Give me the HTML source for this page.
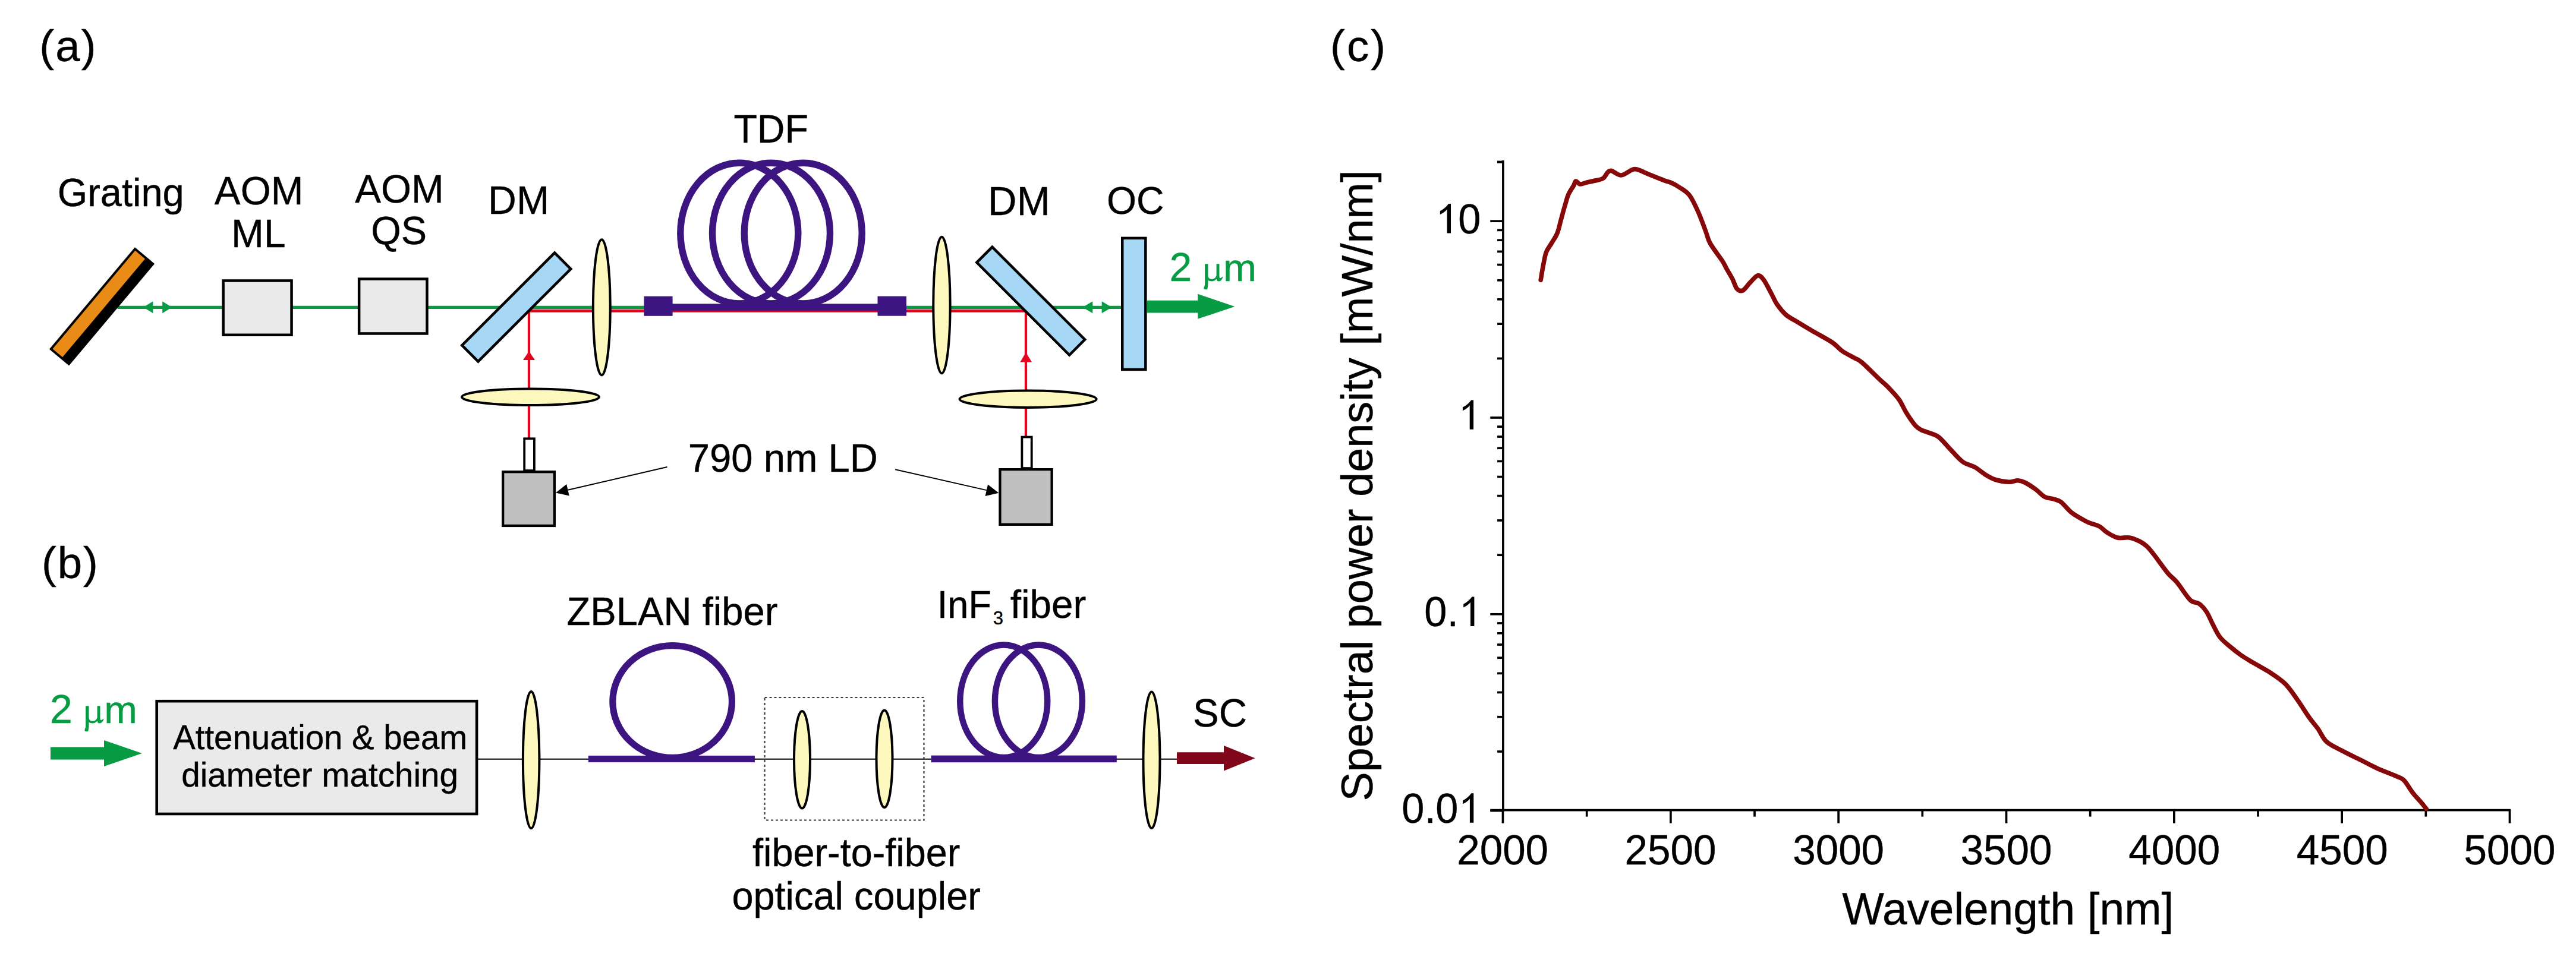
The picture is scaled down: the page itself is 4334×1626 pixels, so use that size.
<!DOCTYPE html>
<html><head><meta charset="utf-8"><style>
html,body{margin:0;padding:0;background:#fff;width:4334px;height:1626px;overflow:hidden}
svg{display:block}
text{font-family:"Liberation Sans", sans-serif}
</style></head><body>
<svg width="4334" height="1626" viewBox="0 0 4334 1626">
<rect width="4334" height="1626" fill="#fff"/>
<text transform="translate(66.33,103.20) scale(1,1.0)" font-size="74.50" fill="#000" stroke="#000" stroke-width="0.4" letter-spacing="2.15">(a)</text>
<text transform="translate(96.75,347.00) scale(1,1.02)" font-size="64.93" fill="#000" stroke="#000" stroke-width="0.4">Grating</text>
<text transform="translate(360.87,344.10) scale(1,1.02)" font-size="65.62" fill="#000" stroke="#000" stroke-width="0.4">AOM</text>
<text transform="translate(389.03,415.80) scale(1,1.02)" font-size="65.86" fill="#000" stroke="#000" stroke-width="0.4">ML</text>
<text transform="translate(597.27,340.60) scale(1,1.02)" font-size="65.62" fill="#000" stroke="#000" stroke-width="0.4">AOM</text>
<text transform="translate(624.28,411.00) scale(1,1.02)" font-size="64.94" fill="#000" stroke="#000" stroke-width="0.4">QS</text>
<text transform="translate(821.11,360.40) scale(1,1.02)" font-size="66.19" fill="#000" stroke="#000" stroke-width="0.4">DM</text>
<text transform="translate(1234.38,240.00) scale(1,1.02)" font-size="64.63" fill="#000" stroke="#000" stroke-width="0.4">TDF</text>
<text transform="translate(1662.12,361.50) scale(1,1.02)" font-size="67.27" fill="#000" stroke="#000" stroke-width="0.4">DM</text>
<text transform="translate(1862.11,360.00) scale(1,1.02)" font-size="64.31" fill="#000" stroke="#000" stroke-width="0.4">OC</text>
<text transform="translate(1967.60,473.00) scale(1,1.0)" font-size="68.00" fill="#079c43" stroke="#079c43" stroke-width="0.4">2</text>
<path transform="translate(2027.1,473)" d="M0,-28.8 L5.4,-28.8 L5.4,-10 C5.4,-4.5 8.5,-3.2 11.8,-3.2 C15.5,-3.2 19.5,-6 19.5,-10.5 L19.5,-28.8 L24.4,-28.8 L24.4,-8.5 C24.4,-4.8 25.6,-4.2 27.4,-5.6 L30.6,-7.6 C29.2,-2.2 26.4,0.4 23.2,0.4 C21,0.4 20,-1 19.6,-3.6 C17,-0.6 14,0.4 11,0.4 C8.4,0.4 6.4,-0.4 5.4,-1.8 L5.4,5 C5.4,8.5 4.6,10.5 4.6,12.2 C4.6,13.6 3.4,14.2 1.5,14.2 C-0.4,14.2 -1.7,13.6 -1.7,12.2 C-1.7,10 0,8.5 0,5 Z" fill="#079c43"/>
<text transform="translate(2057.93,473.00) scale(1,0.97)" font-size="67.29" fill="#079c43" stroke="#079c43" stroke-width="0.4">m</text>
<text transform="translate(1157.74,793.50) scale(1,1.02)" font-size="65.28" fill="#000" stroke="#000" stroke-width="0.4">790 nm LD</text>
<line x1="197.6" y1="517.4" x2="1887" y2="517.4" stroke="#079c43" stroke-width="5.4"/>
<line x1="890" y1="523.2" x2="1726" y2="523.2" stroke="#e4061f" stroke-width="5"/>
<line x1="890" y1="523" x2="890" y2="740" stroke="#e4061f" stroke-width="4.3"/>
<line x1="1726" y1="523" x2="1726" y2="737" stroke="#e4061f" stroke-width="4.3"/>
<polygon points="890,591.2 880,606.1 900,606.1" fill="#e4061f"/>
<polygon points="1726,593.3 1716.4,609.4 1736,609.4" fill="#e4061f"/>
<polygon points="241.1,517.2 257.4,507.20000000000005 257.4,527.2" fill="#079c43"/>
<polygon points="289.2,517.2 273.2,507.20000000000005 273.2,527.2" fill="#079c43"/>
<polygon points="1821.4,517.2 1838.3,507.20000000000005 1838.3,527.2" fill="#079c43"/>
<polygon points="1870.6,517.2 1853.7,507.20000000000005 1853.7,527.2" fill="#079c43"/>
<g transform="translate(171.5,515.9) rotate(-50)"><rect x="-112" y="-21.6" width="224" height="43.2" fill="#000"/><rect x="-108" y="-17.6" width="216" height="21.6" fill="#e98b17"/></g>
<rect x="375.65" y="472.45" width="114.90" height="91.30" fill="#eaeaea" stroke="#000" stroke-width="4.5"/>
<rect x="604.15" y="469.55" width="114.30" height="91.90" fill="#eaeaea" stroke="#000" stroke-width="4.5"/>
<g transform="translate(868.8,517) rotate(-45)"><rect x="-110.2" y="-19.2" width="220.4" height="38.4" fill="#a6d7f4" stroke="#000" stroke-width="4.5"/></g>
<g transform="translate(1734.3,506.7) rotate(45)"><rect x="-110.2" y="-18.4" width="220.4" height="36.8" fill="#a6d7f4" stroke="#000" stroke-width="4.5"/></g>
<ellipse cx="1012.30" cy="517.30" rx="14.40" ry="114.10" fill="#fdf8bd" stroke="#000" stroke-width="4"/>
<ellipse cx="1584.45" cy="513.55" rx="14.15" ry="114.85" fill="#fdf8bd" stroke="#000" stroke-width="4"/>
<ellipse cx="892.50" cy="668.25" rx="115.50" ry="13.75" fill="#fdf8bd" stroke="#000" stroke-width="4"/>
<ellipse cx="1729.60" cy="671.75" rx="115.10" ry="14.15" fill="#fdf8bd" stroke="#000" stroke-width="4"/>
<rect x="882.20" y="738.30" width="16.70" height="53.80" fill="#fff" stroke="#000" stroke-width="3.8"/>
<rect x="846.15" y="794.25" width="86.70" height="90.70" fill="#c0c0c0" stroke="#000" stroke-width="4.3"/>
<rect x="1719.40" y="735.60" width="16.30" height="52.50" fill="#fff" stroke="#000" stroke-width="3.8"/>
<rect x="1682.45" y="790.15" width="87.20" height="92.70" fill="#c0c0c0" stroke="#000" stroke-width="4.3"/>
<line x1="1122.5" y1="786" x2="955.45" y2="824.84" stroke="#000" stroke-width="2"/>
<polygon points="935,829.6 953.19,815.10 957.72,834.58" fill="#000"/>
<line x1="1506.2" y1="790.2" x2="1659.82" y2="825.14" stroke="#000" stroke-width="2"/>
<polygon points="1680.3,829.8 1657.61,834.89 1662.04,815.39" fill="#000"/>
<rect x="1888.25" y="400.85" width="39.10" height="221.10" fill="#a6d7f4" stroke="#000" stroke-width="4.5"/>
<polygon points="1929,505.8 2015.2,505.8 2015.2,494.8 2077.5,516 2015.2,536.8 2015.2,526.6 1929,526.6" fill="#079c43"/>
<rect x="1131" y="511.3" width="346" height="11.5" fill="#3c1580"/>
<ellipse cx="1243.8" cy="392.6" rx="99" ry="118.4" fill="none" stroke="#3c1580" stroke-width="11.4"/>
<ellipse cx="1297.5" cy="392.6" rx="99" ry="118.4" fill="none" stroke="#3c1580" stroke-width="11.4"/>
<ellipse cx="1351.2" cy="392.6" rx="99" ry="118.4" fill="none" stroke="#3c1580" stroke-width="11.4"/>
<rect x="1083.5" y="498.7" width="48.1" height="33.1" fill="#3c1580"/>
<rect x="1476.5" y="498.6" width="48.5" height="33.1" fill="#3c1580"/>
<text transform="translate(70.03,973.20) scale(1,1.0)" font-size="74.50" fill="#000" stroke="#000" stroke-width="0.4" letter-spacing="1.9">(b)</text>
<text transform="translate(84.00,1217.00) scale(1,1.0)" font-size="68.00" fill="#079c43" stroke="#079c43" stroke-width="0.4">2</text>
<path transform="translate(144.1,1217)" d="M0,-28.8 L5.4,-28.8 L5.4,-10 C5.4,-4.5 8.5,-3.2 11.8,-3.2 C15.5,-3.2 19.5,-6 19.5,-10.5 L19.5,-28.8 L24.4,-28.8 L24.4,-8.5 C24.4,-4.8 25.6,-4.2 27.4,-5.6 L30.6,-7.6 C29.2,-2.2 26.4,0.4 23.2,0.4 C21,0.4 20,-1 19.6,-3.6 C17,-0.6 14,0.4 11,0.4 C8.4,0.4 6.4,-0.4 5.4,-1.8 L5.4,5 C5.4,8.5 4.6,10.5 4.6,12.2 C4.6,13.6 3.4,14.2 1.5,14.2 C-0.4,14.2 -1.7,13.6 -1.7,12.2 C-1.7,10 0,8.5 0,5 Z" fill="#079c43"/>
<text transform="translate(175.35,1217.00) scale(1,0.97)" font-size="66.86" fill="#079c43" stroke="#079c43" stroke-width="0.4">m</text>
<text transform="translate(953.54,1051.80) scale(1,1.03)" font-size="65.19" fill="#000" stroke="#000" stroke-width="0.4">ZBLAN fiber</text>
<text transform="translate(1576.83,1039.60) scale(1,1.02)" font-size="63.04" fill="#000" stroke="#000" stroke-width="0.4">InF</text>
<text transform="translate(1670.76,1051.20) scale(1,1.02)" font-size="31.00" fill="#000" stroke="#000" stroke-width="0.4">3</text>
<text transform="translate(1699.82,1039.60) scale(1,1.02)" font-size="65.60" fill="#000" stroke="#000" stroke-width="0.4">fiber</text>
<text transform="translate(2007.06,1222.50) scale(1,1.02)" font-size="65.38" fill="#000" stroke="#000" stroke-width="0.4">SC</text>
<text transform="translate(1266.03,1458.00) scale(1,1.02)" font-size="64.83" fill="#000" stroke="#000" stroke-width="0.4">fiber-to-fiber</text>
<text transform="translate(1231.40,1531.25) scale(1,1.02)" font-size="64.91" fill="#000" stroke="#000" stroke-width="0.4">optical coupler</text>
<line x1="804" y1="1277.7" x2="1985" y2="1277.7" stroke="#000" stroke-width="1.9"/>
<polygon points="85,1257.5 175,1257.5 175,1246 239,1268 175,1290 175,1278.5 85,1278.5" fill="#079c43"/>
<rect x="263.70" y="1180.20" width="538.40" height="189.80" fill="#eaeaea" stroke="#000" stroke-width="4.6"/>
<text transform="translate(291.22,1261.00) scale(1,1.02)" font-size="56.37" fill="#000" stroke="#000" stroke-width="0.4">Attenuation &amp; beam</text>
<text transform="translate(305.23,1324.00) scale(1,1.02)" font-size="56.65" fill="#000" stroke="#000" stroke-width="0.4">diameter matching</text>
<ellipse cx="893.65" cy="1279.20" rx="13.75" ry="115.10" fill="#fdf8bd" stroke="#000" stroke-width="4"/>
<rect x="989.9" y="1271.9" width="280" height="11.2" fill="#3c1580"/>
<ellipse cx="1131.15" cy="1181" rx="100.35" ry="94.4" fill="none" stroke="#3c1580" stroke-width="11.2"/>
<rect x="1286.5" y="1174" width="268" height="206.5" fill="none" stroke="#3a3a3a" stroke-width="2.2" stroke-dasharray="4,4"/>
<ellipse cx="1349.50" cy="1278.75" rx="13.50" ry="81.75" fill="#fdf8bd" stroke="#000" stroke-width="4"/>
<ellipse cx="1488.00" cy="1277.25" rx="13.50" ry="81.75" fill="#fdf8bd" stroke="#000" stroke-width="4"/>
<rect x="1566.6" y="1271.6" width="312.2" height="11.6" fill="#3c1580"/>
<ellipse cx="1688.75" cy="1180.3" rx="73.5" ry="94.7" fill="none" stroke="#3c1580" stroke-width="10.5"/>
<ellipse cx="1747.4" cy="1180.3" rx="73.5" ry="94.7" fill="none" stroke="#3c1580" stroke-width="10.5"/>
<ellipse cx="1937.50" cy="1279.25" rx="14.00" ry="114.75" fill="#fdf8bd" stroke="#000" stroke-width="4"/>
<polygon points="1980,1266.3 2059,1266.3 2059,1255 2111.7,1276.2 2059,1297.4 2059,1285.9 1980,1285.9" fill="#82061a"/>
<text transform="translate(2238.03,103.40) scale(1,1.0)" font-size="74.50" fill="#000" stroke="#000" stroke-width="0.4" letter-spacing="3.05">(c)</text>
<g stroke="#000" stroke-width="3.7">
<line x1="2528.9" y1="270" x2="2528.9" y2="1365.4"/>
<line x1="2507.3" y1="1363.6" x2="4224" y2="1363.6"/>
<line x1="2507.3" y1="1364.60" x2="2529" y2="1364.60"/>
<line x1="2519.1" y1="1265.02" x2="2529" y2="1265.02"/>
<line x1="2519.1" y1="1206.77" x2="2529" y2="1206.77"/>
<line x1="2519.1" y1="1165.44" x2="2529" y2="1165.44"/>
<line x1="2519.1" y1="1133.38" x2="2529" y2="1133.38"/>
<line x1="2519.1" y1="1107.19" x2="2529" y2="1107.19"/>
<line x1="2519.1" y1="1085.04" x2="2529" y2="1085.04"/>
<line x1="2519.1" y1="1065.86" x2="2529" y2="1065.86"/>
<line x1="2519.1" y1="1048.94" x2="2529" y2="1048.94"/>
<line x1="2507.3" y1="1033.80" x2="2529" y2="1033.80"/>
<line x1="2519.1" y1="934.22" x2="2529" y2="934.22"/>
<line x1="2519.1" y1="875.97" x2="2529" y2="875.97"/>
<line x1="2519.1" y1="834.64" x2="2529" y2="834.64"/>
<line x1="2519.1" y1="802.58" x2="2529" y2="802.58"/>
<line x1="2519.1" y1="776.39" x2="2529" y2="776.39"/>
<line x1="2519.1" y1="754.24" x2="2529" y2="754.24"/>
<line x1="2519.1" y1="735.06" x2="2529" y2="735.06"/>
<line x1="2519.1" y1="718.14" x2="2529" y2="718.14"/>
<line x1="2507.3" y1="703.00" x2="2529" y2="703.00"/>
<line x1="2519.1" y1="603.42" x2="2529" y2="603.42"/>
<line x1="2519.1" y1="545.17" x2="2529" y2="545.17"/>
<line x1="2519.1" y1="503.84" x2="2529" y2="503.84"/>
<line x1="2519.1" y1="471.78" x2="2529" y2="471.78"/>
<line x1="2519.1" y1="445.59" x2="2529" y2="445.59"/>
<line x1="2519.1" y1="423.44" x2="2529" y2="423.44"/>
<line x1="2519.1" y1="404.26" x2="2529" y2="404.26"/>
<line x1="2519.1" y1="387.34" x2="2529" y2="387.34"/>
<line x1="2507.3" y1="372.20" x2="2529" y2="372.20"/>
<line x1="2519.1" y1="272.62" x2="2529" y2="272.62"/>
<line x1="2519.1" y1="272.62" x2="2529" y2="272.62"/>
<line x1="2528.50" y1="1363" x2="2528.50" y2="1385.7"/>
<line x1="2810.84" y1="1363" x2="2810.84" y2="1385.7"/>
<line x1="3093.17" y1="1363" x2="3093.17" y2="1385.7"/>
<line x1="3375.51" y1="1363" x2="3375.51" y2="1385.7"/>
<line x1="3657.84" y1="1363" x2="3657.84" y2="1385.7"/>
<line x1="3940.18" y1="1363" x2="3940.18" y2="1385.7"/>
<line x1="4222.51" y1="1363" x2="4222.51" y2="1385.7"/>
<line x1="2669.67" y1="1363" x2="2669.67" y2="1374.6"/>
<line x1="2952.00" y1="1363" x2="2952.00" y2="1374.6"/>
<line x1="3234.34" y1="1363" x2="3234.34" y2="1374.6"/>
<line x1="3516.67" y1="1363" x2="3516.67" y2="1374.6"/>
<line x1="3799.01" y1="1363" x2="3799.01" y2="1374.6"/>
<line x1="4081.34" y1="1363" x2="4081.34" y2="1374.6"/>
</g>
<text transform="translate(2453.26,392.50) scale(1,1.025)" font-size="68.50" fill="#000" stroke="#000" stroke-width="0.4">0</text>
<path transform="translate(2441,392.5) scale(1.0)" d="M0,0 L0,-49.4 L-3.9,-49.4 C-7.2,-44.6 -12.2,-40.2 -18.2,-37.2 L-18.2,-31.5 C-13.2,-33.8 -9.4,-36.4 -6.4,-40.2 L-6.4,0 Z" fill="#000"/>
<path transform="translate(2479.1,722.8) scale(1.0)" d="M0,0 L0,-49.4 L-3.9,-49.4 C-7.2,-44.6 -12.2,-40.2 -18.2,-37.2 L-18.2,-31.5 C-13.2,-33.8 -9.4,-36.4 -6.4,-40.2 L-6.4,0 Z" fill="#000"/>
<text transform="translate(2396.26,1053.90) scale(1,1.025)" font-size="68.50" fill="#000" stroke="#000" stroke-width="0.4">0</text>
<text transform="translate(2434.84,1053.90) scale(1,1.025)" font-size="68.50" fill="#000" stroke="#000" stroke-width="0.4">.</text>
<path transform="translate(2480.4,1053.9) scale(1.0)" d="M0,0 L0,-49.4 L-3.9,-49.4 C-7.2,-44.6 -12.2,-40.2 -18.2,-37.2 L-18.2,-31.5 C-13.2,-33.8 -9.4,-36.4 -6.4,-40.2 L-6.4,0 Z" fill="#000"/>
<text transform="translate(2358.26,1384.70) scale(1,1.025)" font-size="68.50" fill="#000" stroke="#000" stroke-width="0.4">0</text>
<text transform="translate(2396.64,1384.70) scale(1,1.025)" font-size="68.50" fill="#000" stroke="#000" stroke-width="0.4">.</text>
<text transform="translate(2415.36,1384.70) scale(1,1.025)" font-size="68.50" fill="#000" stroke="#000" stroke-width="0.4">0</text>
<path transform="translate(2479.3,1384.7) scale(1.0)" d="M0,0 L0,-49.4 L-3.9,-49.4 C-7.2,-44.6 -12.2,-40.2 -18.2,-37.2 L-18.2,-31.5 C-13.2,-33.8 -9.4,-36.4 -6.4,-40.2 L-6.4,0 Z" fill="#000"/>
<text transform="translate(2451.17,1454.50) scale(1,1.025)" font-size="69.20" fill="#000" stroke="#000" stroke-width="0.4">2000</text>
<text transform="translate(2733.50,1454.50) scale(1,1.025)" font-size="69.20" fill="#000" stroke="#000" stroke-width="0.4">2500</text>
<text transform="translate(3016.18,1454.50) scale(1,1.025)" font-size="69.20" fill="#000" stroke="#000" stroke-width="0.4">3000</text>
<text transform="translate(3298.52,1454.50) scale(1,1.025)" font-size="69.20" fill="#000" stroke="#000" stroke-width="0.4">3500</text>
<text transform="translate(3581.37,1454.50) scale(1,1.025)" font-size="69.20" fill="#000" stroke="#000" stroke-width="0.4">4000</text>
<text transform="translate(3863.71,1454.50) scale(1,1.025)" font-size="69.20" fill="#000" stroke="#000" stroke-width="0.4">4500</text>
<text transform="translate(4145.53,1454.50) scale(1,1.025)" font-size="69.20" fill="#000" stroke="#000" stroke-width="0.4">5000</text>
<text transform="translate(3099.13,1555.50) scale(1,1.02)" font-size="74.76" fill="#000" stroke="#000" stroke-width="0.4">Wavelength [nm]</text>
<text transform="translate(2308.9,1348.62) rotate(-90)" font-size="73.8" stroke="#000" stroke-width="0.4">Spectral power density [mW/nm]</text>
<path d="M2592.2,471.2 C2592.9,467.2 2594.7,455.2 2596.25,447.5 C2597.8,439.8 2599.0,431.2 2601.25,425 C2603.5,418.8 2606.9,415.4 2610,410 C2613.1,404.6 2617.3,399.2 2620,392.5 C2622.7,385.8 2624.2,377.5 2626.25,370 C2628.3,362.5 2630.4,354.6 2632.5,347.5 C2634.6,340.4 2636.2,333.3 2638.75,327.5 C2641.2,321.7 2645.4,316.2 2647.5,312.5 C2649.6,308.8 2649.4,305.4 2651.25,305 C2653.1,304.6 2655.6,309.7 2658.75,310 C2661.9,310.3 2665.6,308.0 2670,307 C2674.4,306.0 2680.4,304.9 2685,303.75 C2689.6,302.6 2694.2,302.3 2697.5,300 C2700.8,297.7 2702.7,292.1 2705,290 C2707.3,287.9 2707.5,286.7 2711.25,287.5 C2715.0,288.3 2721.9,295.2 2727.5,295 C2733.1,294.8 2740.6,287.9 2745,286.25 C2749.4,284.6 2748.8,283.8 2753.75,285 C2758.8,286.2 2767.3,290.6 2775,293.75 C2782.7,296.9 2793.8,301.4 2800,303.75 C2806.2,306.1 2808.3,306.1 2812.5,308 C2816.7,309.9 2820.0,311.5 2825,315 C2830.0,318.5 2837.1,321.7 2842.5,328.75 C2847.9,335.8 2852.9,347.3 2857.5,357.5 C2862.1,367.7 2866.7,381.2 2870,390 C2873.3,398.8 2872.9,401.9 2877.5,410 C2882.1,418.1 2892.9,431.7 2897.5,438.75 C2902.1,445.8 2902.1,447.3 2905,452.5 C2907.9,457.7 2912.1,464.4 2915,470 C2917.9,475.6 2919.6,483.1 2922.5,486.25 C2925.4,489.4 2928.8,490.6 2932.5,488.75 C2936.2,486.9 2940.8,479.2 2945,475 C2949.2,470.8 2953.8,464.4 2957.5,463.75 C2961.2,463.1 2963.8,466.2 2967.5,471.25 C2971.2,476.2 2976.2,486.9 2980,493.75 C2983.8,500.6 2985.8,506.5 2990,512.5 C2994.2,518.5 2999.2,525.0 3005,530 C3010.8,535.0 3017.5,537.9 3025,542.5 C3032.5,547.1 3040.4,551.9 3050,557.5 C3059.6,563.1 3074.2,570.6 3082.5,576.25 C3090.8,581.9 3093.8,586.9 3100,591.25 C3106.2,595.6 3114.6,599.4 3120,602.5 C3125.4,605.6 3125.4,604.0 3132.5,610 C3139.6,616.0 3155.0,631.7 3162.5,638.75 C3170.0,645.8 3172.1,646.9 3177.5,652.5 C3182.9,658.1 3190.0,665.4 3195,672.5 C3200.0,679.6 3202.9,687.7 3207.5,695 C3212.1,702.3 3218.3,711.5 3222.5,716.25 C3226.7,721.0 3227.9,721.5 3232.5,723.75 C3237.1,726.0 3245.0,727.9 3250,730 C3255.0,732.1 3257.1,731.7 3262.5,736.25 C3267.9,740.8 3275.8,750.6 3282.5,757.5 C3289.2,764.4 3295.8,772.7 3302.5,777.5 C3309.2,782.3 3316.2,782.7 3322.5,786.25 C3328.8,789.8 3334.2,795.2 3340,798.75 C3345.8,802.3 3350.8,805.4 3357.5,807.5 C3364.2,809.6 3373.8,811.0 3380,811.25 C3386.2,811.5 3390.4,808.5 3395,808.75 C3399.6,809.0 3402.5,810.0 3407.5,812.5 C3412.5,815.0 3419.6,819.8 3425,823.75 C3430.4,827.7 3435.0,833.5 3440,836.25 C3445.0,839.0 3450.4,838.5 3455,840 C3459.6,841.5 3462.5,841.2 3467.5,845 C3472.5,848.8 3478.8,857.5 3485,862.5 C3491.2,867.5 3500.0,872.1 3505,875 C3510.0,877.9 3510.4,878.1 3515,880 C3519.6,881.9 3527.5,883.5 3532.5,886.25 C3537.5,889.0 3540.0,893.1 3545,896.25 C3550.0,899.4 3556.2,903.5 3562.5,905 C3568.8,906.5 3576.2,904.0 3582.5,905 C3588.8,906.0 3595.0,908.8 3600,911.25 C3605.0,913.8 3608.3,916.0 3612.5,920 C3616.7,924.0 3619.2,927.5 3625,935 C3630.8,942.5 3641.2,957.5 3647.5,965 C3653.8,972.5 3656.2,972.5 3662.5,980 C3668.8,987.5 3678.8,1004.0 3685,1010 C3691.2,1016.0 3695.4,1012.9 3700,1016.25 C3704.6,1019.6 3708.8,1024.4 3712.5,1030 C3716.2,1035.6 3718.8,1042.9 3722.5,1050 C3726.2,1057.1 3730.0,1066.0 3735,1072.5 C3740.0,1079.0 3746.7,1083.8 3752.5,1088.75 C3758.3,1093.8 3763.8,1098.1 3770,1102.5 C3776.2,1106.9 3781.7,1110.0 3790,1115 C3798.3,1120.0 3810.8,1126.5 3820,1132.5 C3829.2,1138.5 3837.5,1143.8 3845,1151.25 C3852.5,1158.8 3858.3,1168.1 3865,1177.5 C3871.7,1186.9 3879.2,1199.3 3885,1207.5 C3890.8,1215.7 3895.1,1220.0 3900,1226.9 C3904.9,1233.8 3907.6,1242.5 3914.5,1248.7 C3921.4,1254.9 3931.7,1259.0 3941.4,1264.2 C3951.1,1269.4 3962.8,1274.9 3972.5,1279.7 C3982.2,1284.5 3989.1,1288.5 3999.4,1293.2 C4009.8,1297.9 4027.0,1304.2 4034.6,1307.7 C4042.2,1311.2 4040.8,1309.4 4045,1313.9 C4049.2,1318.4 4054.7,1328.4 4059.5,1334.6 C4064.3,1340.8 4070.2,1346.7 4074,1351.2 C4077.8,1355.7 4080.8,1359.8 4082.2,1361.5" fill="none" stroke="#860808" stroke-width="7.6" stroke-linejoin="round" stroke-linecap="round"/>
</svg></body></html>
